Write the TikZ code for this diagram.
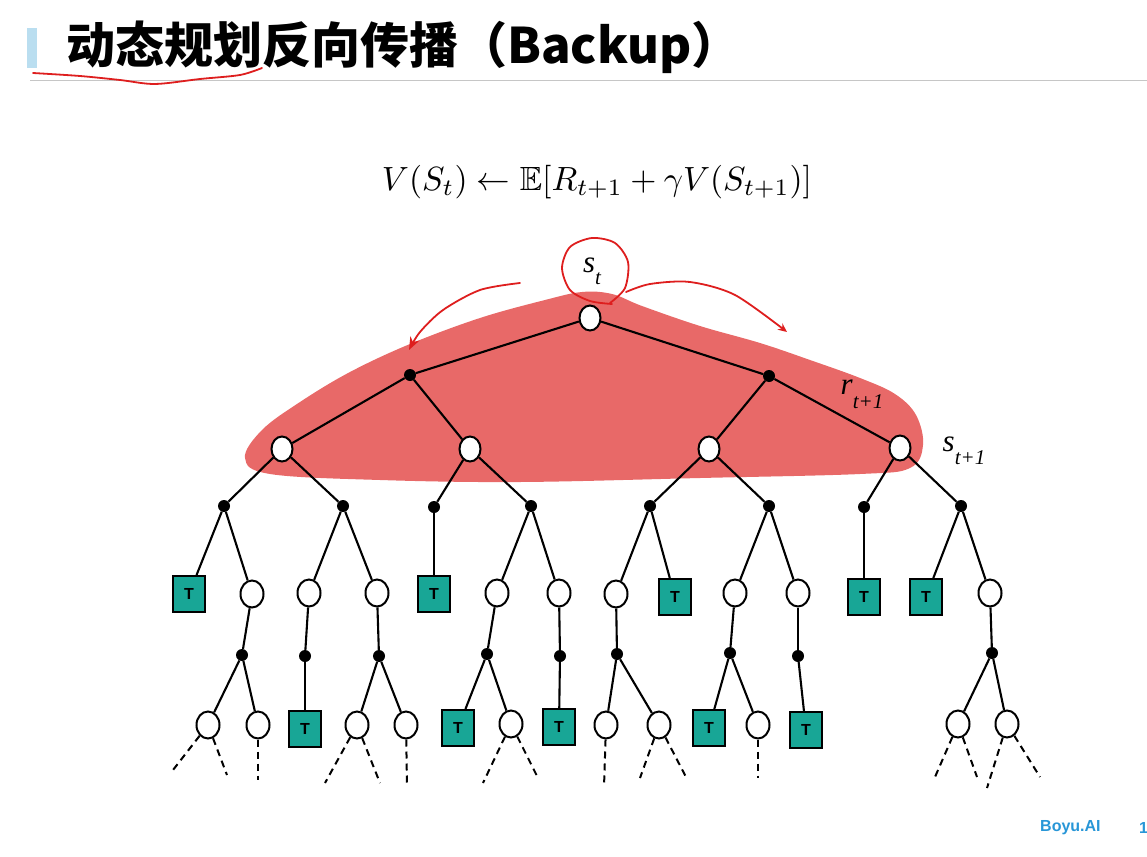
\documentclass[tikz,border=0pt]{standalone}
\usepackage{fontspec}
\usepackage{amssymb}
\usepackage{graphicx}
\usetikzlibrary{shapes.geometric,arrows.meta}
\newfontfamily\cjk{Noto Sans CJK SC}
\newfontfamily\libser{Liberation Serif}
\newfontfamily\libsans{Liberation Sans}
\definecolor{blobred}{RGB}{232,105,104}
\definecolor{penred}{RGB}{222,30,30}
\definecolor{tteal}{RGB}{24,166,150}
\definecolor{barblue}{RGB}{186,222,240}
\definecolor{boyublue}{RGB}{40,150,215}
\tikzset{
  sc/.style={ellipse,draw,line width=2pt,fill=white,minimum width=23pt,minimum height=27pt,inner sep=0pt},
  sctop/.style={sc,minimum width=21pt,minimum height=25pt},
  ad/.style={circle,fill=black,minimum size=12pt,inner sep=0pt},
  tb/.style={rectangle,draw,line width=2pt,fill=tteal,minimum width=32pt,minimum height=36pt,inner sep=0pt,font=\libsans\bfseries\fontsize{16}{16}\selectfont},
  edge/.style={line width=2.1pt},
  dedge/.style={line width=2pt,dash pattern=on 7pt off 5pt},
  pen/.style={draw=penred,line width=1.8pt,line cap=round,line join=round},
  lbl/.style={font=\libser\itshape\fontsize{31}{31}\selectfont,inner sep=0pt}
}
\begin{document}
\begin{tikzpicture}[x=1pt,y=-1pt]
\useasboundingbox (0,0) rectangle (1147,856);
% title
\fill[barblue] (27,28) rectangle (37,68);
\draw[gray!45,line width=1pt] (30,81) -- (1147,81);
\node[anchor=west,inner sep=0pt,font=\cjk\bfseries\fontsize{49}{49}\selectfont] (title) at (66,47) {动态规划反向传播（Backup）};
\draw[pen] plot[smooth] coordinates {(33,73) (80,76) (120,80) (155,84) (200,79) (240,75) (262,68)};
% formula
\node[inner sep=0pt] (formula) at (597,182) {\resizebox{430pt}{!}{$V(S_t)\leftarrow\mathbb{E}[R_{t+1}+\gamma V(S_{t+1})]$}};
% red blob
\fill[blobred] plot[smooth cycle,tension=0.6] coordinates {(245,458) (262,430) (300,402) (350,372) (410,344) (480,318) (545,300) (582,292) (612,294) (642,306) (700,326) (760,343) (810,360) (860,378) (895,394) (916,415) (923,445) (910,468) (860,474) (700,478) (520,482) (380,480) (270,474)};
% tree nodes
\node[sctop] (R) at (590,318) {};
\node[ad] (a1) at (410,375) {};
\node[ad] (a2) at (769,376) {};
\node[sctop] (s1) at (282,449) {};
\node[sctop] (s2) at (470,449) {};
\node[sctop] (s3) at (709,449) {};
\node[sctop] (s4) at (900,448) {};
\node[ad] (b1) at (224,506) {};
\node[ad] (b2) at (343,506) {};
\node[ad] (b3) at (434,507) {};
\node[ad] (b4) at (531,506) {};
\node[ad] (b5) at (650,506) {};
\node[ad] (b6) at (769,506) {};
\node[ad] (b7) at (864,507) {};
\node[ad] (b8) at (961,506) {};
\node[tb] (t1) at (189,594) {T};
\node[sc] (c1) at (252,594) {};
\node[sc] (c2) at (309,593) {};
\node[sc] (c3) at (377,593) {};
\node[tb] (t2) at (434,594) {T};
\node[sc] (c4) at (497,593) {};
\node[sc] (c5) at (559,593) {};
\node[sc] (c6) at (616,594) {};
\node[tb] (t3) at (675,597) {T};
\node[sc] (c7) at (735,593) {};
\node[sc] (c8) at (798,593) {};
\node[tb] (t4) at (864,597) {T};
\node[tb] (t5) at (926,597) {T};
\node[sc] (c9) at (990,593) {};
\node[ad] (d1) at (242,655) {};
\node[ad] (d2) at (305,656) {};
\node[ad] (d3) at (379,656) {};
\node[ad] (d4) at (487,654) {};
\node[ad] (d5) at (560,656) {};
\node[ad] (d6) at (617,654) {};
\node[ad] (d7) at (730,653) {};
\node[ad] (d8) at (798,656) {};
\node[ad] (d9) at (992,653) {};
\node[sc] (e1) at (208,725) {};
\node[sc] (e2) at (258,725) {};
\node[tb] (t6) at (305,729) {T};
\node[sc] (e3) at (357,725) {};
\node[sc] (e4) at (406,725) {};
\node[tb] (t7) at (458,728) {T};
\node[sc] (e5) at (511,724) {};
\node[tb] (t8) at (559,727) {T};
\node[sc] (e6) at (606,725) {};
\node[sc] (e7) at (659,725) {};
\node[tb] (t9) at (709,728) {T};
\node[sc] (e8) at (758,725) {};
\node[tb] (t10) at (806,730) {T};
\node[sc] (e9) at (958,724) {};
\node[sc] (e10) at (1007,724) {};
% edges
\draw[edge] (R) -- (a1); \draw[edge] (R) -- (a2);
\draw[edge] (a1) -- (s1); \draw[edge] (a1) -- (s2);
\draw[edge] (a2) -- (s3); \draw[edge] (a2) -- (s4);
\draw[edge] (s1) -- (b1); \draw[edge] (s1) -- (b2);
\draw[edge] (s2) -- (b3); \draw[edge] (s2) -- (b4);
\draw[edge] (s3) -- (b5); \draw[edge] (s3) -- (b6);
\draw[edge] (s4) -- (b7); \draw[edge] (s4) -- (b8);
\draw[edge] (b1) -- (t1); \draw[edge] (b1) -- (c1);
\draw[edge] (b2) -- (c2); \draw[edge] (b2) -- (c3);
\draw[edge] (b3) -- (t2);
\draw[edge] (b4) -- (c4); \draw[edge] (b4) -- (c5);
\draw[edge] (b5) -- (c6); \draw[edge] (b5) -- (t3);
\draw[edge] (b6) -- (c7); \draw[edge] (b6) -- (c8);
\draw[edge] (b7) -- (t4);
\draw[edge] (b8) -- (t5); \draw[edge] (b8) -- (c9);
\draw[edge] (c1) -- (d1); \draw[edge] (c2) -- (d2); \draw[edge] (c3) -- (d3);
\draw[edge] (c4) -- (d4); \draw[edge] (c5) -- (d5); \draw[edge] (c6) -- (d6);
\draw[edge] (c7) -- (d7); \draw[edge] (c8) -- (d8); \draw[edge] (c9) -- (d9);
\draw[edge] (d1) -- (e1); \draw[edge] (d1) -- (e2);
\draw[edge] (d2) -- (t6);
\draw[edge] (d3) -- (e3); \draw[edge] (d3) -- (e4);
\draw[edge] (d4) -- (t7); \draw[edge] (d4) -- (e5);
\draw[edge] (d5) -- (t8);
\draw[edge] (d6) -- (e6); \draw[edge] (d6) -- (e7);
\draw[edge] (d7) -- (t9); \draw[edge] (d7) -- (e8);
\draw[edge] (d8) -- (t10);
\draw[edge] (d9) -- (e9); \draw[edge] (d9) -- (e10);
% dashed continuations
\coordinate (z1) at (173,770); \coordinate (z2) at (227,775);
\coordinate (z3) at (258,780);
\coordinate (z4) at (325,783); \coordinate (z5) at (380,783);
\coordinate (z6) at (407,785);
\coordinate (z7) at (483,783); \coordinate (z8) at (538,778);
\coordinate (z9) at (604,787);
\coordinate (z10) at (640,778); \coordinate (z11) at (686,777);
\coordinate (z12) at (758,778);
\coordinate (z13) at (935,777); \coordinate (z14) at (977,777);
\coordinate (z15) at (987,788); \coordinate (z16) at (1040,777);
\draw[dedge] (e1) -- (z1); \draw[dedge] (e1) -- (z2);
\draw[dedge] (e2) -- (z3);
\draw[dedge] (e3) -- (z4); \draw[dedge] (e3) -- (z5);
\draw[dedge] (e4) -- (z6);
\draw[dedge] (e5) -- (z7); \draw[dedge] (e5) -- (z8);
\draw[dedge] (e6) -- (z9);
\draw[dedge] (e7) -- (z10); \draw[dedge] (e7) -- (z11);
\draw[dedge] (e8) -- (z12);
\draw[dedge] (e9) -- (z13); \draw[dedge] (e9) -- (z14);
\draw[dedge] (e10) -- (z15); \draw[dedge] (e10) -- (z16);
% labels
\node[lbl] (lst) at (592,271) {s\raisebox{-0.38em}{\fontsize{21}{21}\selectfont t}};
\node[lbl] (lrt) at (862,394) {r\raisebox{-0.45em}{\fontsize{21}{21}\selectfont t+1}};
\node[lbl] (lss) at (964,451) {s\raisebox{-0.42em}{\fontsize{21}{21}\selectfont t+1}};
% red pen annotations
\draw[pen] plot[smooth] coordinates {(612,304) (590,301) (570,290) (562,268) (570,247) (592,238) (615,243) (628,262) (625,288) (610,303)};
\draw[pen,-{Stealth[open,length=13pt,width=10pt]}] plot[smooth] coordinates {(520,283) (480,290) (443,310) (420,332) (409,350)};
\draw[pen,-{Stealth[length=9pt,width=8pt]}] plot[smooth] coordinates {(626,292) (650,284) (690,282) (735,295) (787,332)};
% footer
\node[anchor=west,inner sep=0pt,text=boyublue,font=\libsans\bfseries\fontsize{16}{16}\selectfont] (boyu) at (1040,828) {Boyu.AI};
\node[anchor=west,inner sep=0pt,text=boyublue,font=\libsans\bfseries\fontsize{16}{16}\selectfont] (pg) at (1139,828) {1};
\end{tikzpicture}
\end{document}
